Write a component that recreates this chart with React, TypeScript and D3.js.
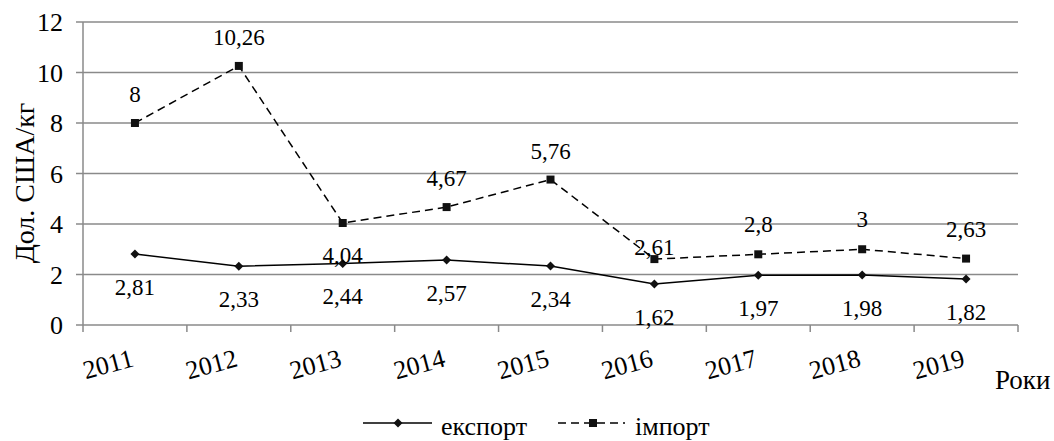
import React from "react";
import * as d3 from "d3";

const years = ["2011", "2012", "2013", "2014", "2015", "2016", "2017", "2018", "2019"];
const exportVals = [2.81, 2.33, 2.44, 2.57, 2.34, 1.62, 1.97, 1.98, 1.82];
const importVals = [8, 10.26, 4.04, 4.67, 5.76, 2.61, 2.8, 3, 2.63];
const yTicks = [0, 2, 4, 6, 8, 10, 12];

// where excel dropped each import label (baseline shift from the point)
const importLabelDy = [-21, -21, 40, -21, -21, -4, -22, -22, -22];
const exportLabelDy = 41;

const fmt = (v: number) => String(v).replace(".", ",");

const App = () => {
  const width = 1054;
  const height = 441;
  const left = 83;
  const right = 1018;
  const top = 22;
  const bottom = 325;
  const gridColor = "#8a8a8a";
  const textStyle = { fontFamily: "Liberation Serif, Times New Roman, Times, DejaVu Serif, serif", fontSize: 26 };
  const labelFs = 23;

  const x = d3.scaleBand().domain(years).range([left, right]).paddingInner(0).paddingOuter(0);
  const y = d3.scaleLinear().domain([0, 12]).range([bottom, top]);
  const cx = (d: string) => (x(d) as number) + x.bandwidth() / 2;

  const line = d3
    .line<number>()
    .x((_, i) => cx(years[i]))
    .y((d) => y(d));

  const diamond = (px: number, py: number, r = 4.5) =>
    `M${px},${py - r}L${px + r},${py}L${px},${py + r}L${px - r},${py}Z`;

  return (
    <svg width={width} height={height} style={{ position: "absolute", left: 0, top: 0, background: "#fff" }}>
      <g style={textStyle} fill="#000">
        {/* grid */}
        {yTicks.map((t) => (
          <g key={t}>
            <line x1={left - 7} x2={right} y1={y(t)} y2={y(t)} stroke={gridColor} strokeWidth={1.5} />
            <text x={left - 20} y={y(t)} dy="0.35em" textAnchor="end">
              {t}
            </text>
          </g>
        ))}
        <line x1={left} x2={left} y1={top} y2={bottom} stroke={gridColor} strokeWidth={1.5} />
        {/* x ticks */}
        {d3.range(years.length + 1).map((i) => {
          const px = left + i * x.bandwidth();
          return <line key={i} x1={px} x2={px} y1={bottom} y2={bottom + 7} stroke={gridColor} strokeWidth={1.5} />;
        })}
        {years.map((yr) => (
          <text key={yr} transform={`translate(${cx(yr)},${366}) rotate(-15)`} textAnchor="end">
            {yr}
          </text>
        ))}

        {/* series */}
        <path d={line(importVals) || ""} fill="none" stroke="#000" strokeWidth={1.5} strokeDasharray="8,5" />
        <path d={line(exportVals) || ""} fill="none" stroke="#000" strokeWidth={1.5} />
        {importVals.map((v, i) => (
          <rect key={"im" + i} x={cx(years[i]) - 4} y={y(v) - 4} width={8} height={8} fill="#111" />
        ))}
        {exportVals.map((v, i) => (
          <path key={"ex" + i} d={diamond(cx(years[i]), y(v))} fill="#111" />
        ))}

        {/* data labels */}
        {importVals.map((v, i) => (
          <text key={"iml" + i} x={cx(years[i])} y={y(v) + importLabelDy[i]} textAnchor="middle" fontSize={labelFs}>
            {fmt(v)}
          </text>
        ))}
        {exportVals.map((v, i) => (
          <text key={"exl" + i} x={cx(years[i])} y={y(v) + exportLabelDy} textAnchor="middle" fontSize={labelFs}>
            {fmt(v)}
          </text>
        ))}

        {/* axis titles */}
        <text transform={`translate(34,183) rotate(-90)`} textAnchor="middle" style={{ fontSize: 28 }}>
          Дол. США/кг
        </text>
        <text x={995} y={389} style={{ fontSize: 27 }}>
          Роки
        </text>

        {/* legend */}
        <line x1={363} x2={432} y1={423} y2={423} stroke="#000" strokeWidth={1.5} />
        <path d={diamond(398, 423)} fill="#111" />
        <text x={441} y={435}>
          експорт
        </text>
        <line x1={558} x2={625} y1={423} y2={423} stroke="#000" strokeWidth={1.5} strokeDasharray="8,5" />
        <rect x={589} y={419} width={8} height={8} fill="#111" />
        <text x={635} y={435}>
          імпорт
        </text>
      </g>
    </svg>
  );
};

export default App;
